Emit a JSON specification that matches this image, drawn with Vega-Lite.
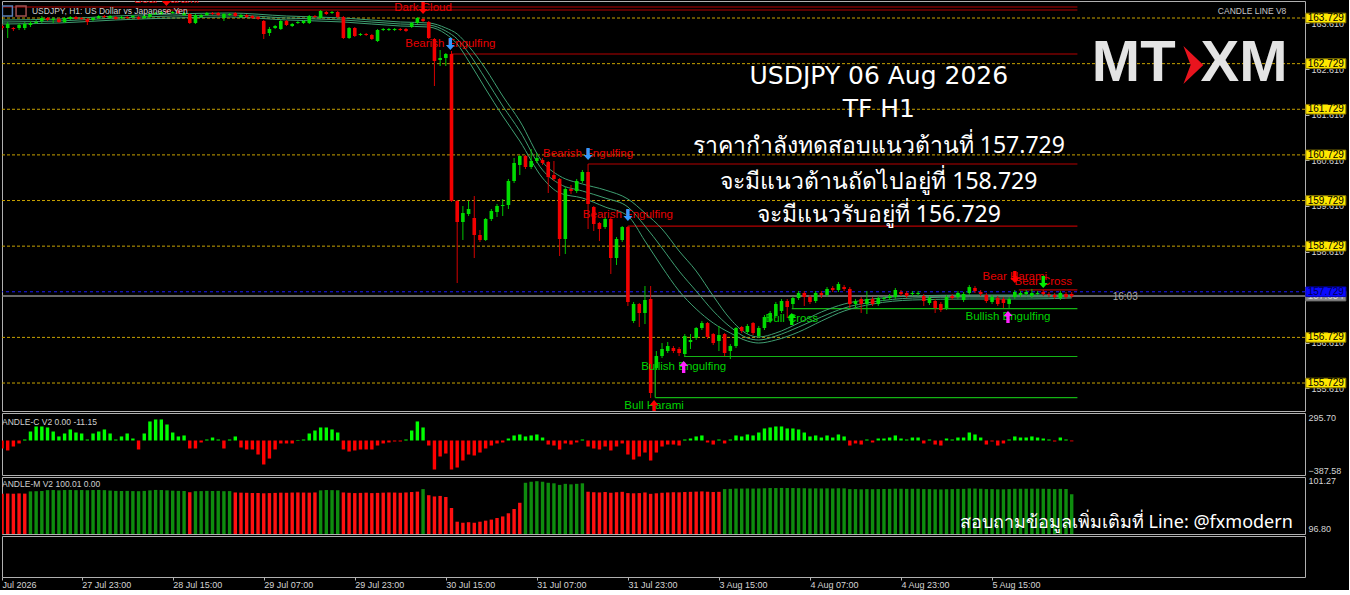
{
  "$schema": "https://vega.github.io/schema/vega-lite/v6.json",
  "background": "#000000",
  "padding": 0,
  "spacing": 2,
  "bounds": "flush",
  "config": {
    "view": {"stroke": "#b0b0b0", "strokeWidth": 1, "fill": "#000000"},
    "text": {"font": "Liberation Sans"},
    "axis": {"labelFont": "Liberation Sans", "grid": false}
  },
  "resolve": {"scale": {"x": "independent", "y": "independent"}},
  "datasets": {
    "bars": [
      {"i":0,"o":163.554,"h":163.598,"l":163.466,"c":163.510,"cv":-105,"mv":100.05,"md":"dn"},
      {"i":1,"o":163.510,"h":163.642,"l":163.291,"c":163.598,"cv":-131,"mv":100.08,"md":"dn"},
      {"i":2,"o":163.510,"h":163.532,"l":163.444,"c":163.488,"cv":-79,"mv":100.06,"md":"dn"},
      {"i":3,"o":163.510,"h":163.620,"l":163.466,"c":163.576,"cv":-39,"mv":100.09,"md":"dn"},
      {"i":4,"o":163.510,"h":163.642,"l":163.466,"c":163.598,"cv":13,"mv":100.07,"md":"dn"},
      {"i":5,"o":163.576,"h":163.664,"l":163.532,"c":163.620,"cv":118,"mv":100.28,"md":"up"},
      {"i":6,"o":163.620,"h":163.686,"l":163.598,"c":163.642,"cv":184,"mv":100.30,"md":"up"},
      {"i":7,"o":163.664,"h":163.773,"l":163.620,"c":163.729,"cv":184,"mv":100.32,"md":"up"},
      {"i":8,"o":163.729,"h":163.751,"l":163.664,"c":163.686,"cv":171,"mv":100.40,"md":"up"},
      {"i":9,"o":163.686,"h":163.751,"l":163.620,"c":163.707,"cv":118,"mv":100.41,"md":"up"},
      {"i":10,"o":163.707,"h":163.729,"l":163.620,"c":163.642,"cv":53,"mv":100.38,"md":"up"},
      {"i":11,"o":163.642,"h":163.751,"l":163.620,"c":163.729,"cv":92,"mv":100.41,"md":"up"},
      {"i":12,"o":163.707,"h":163.773,"l":163.686,"c":163.751,"cv":145,"mv":100.42,"md":"up"},
      {"i":13,"o":163.751,"h":163.773,"l":163.686,"c":163.707,"cv":105,"mv":100.40,"md":"up"},
      {"i":14,"o":163.729,"h":163.751,"l":163.686,"c":163.707,"cv":92,"mv":100.41,"md":"up"},
      {"i":15,"o":163.707,"h":163.729,"l":163.576,"c":163.642,"cv":13,"mv":100.39,"md":"up"},
      {"i":16,"o":163.686,"h":163.751,"l":163.664,"c":163.729,"cv":92,"mv":100.41,"md":"up"},
      {"i":17,"o":163.729,"h":163.795,"l":163.707,"c":163.773,"cv":118,"mv":100.42,"md":"up"},
      {"i":18,"o":163.773,"h":163.795,"l":163.729,"c":163.751,"cv":145,"mv":100.40,"md":"up"},
      {"i":19,"o":163.729,"h":163.795,"l":163.707,"c":163.773,"cv":92,"mv":100.36,"md":"up"},
      {"i":20,"o":163.751,"h":163.773,"l":163.686,"c":163.707,"cv":13,"mv":100.33,"md":"up"},
      {"i":21,"o":163.729,"h":163.773,"l":163.707,"c":163.751,"cv":53,"mv":100.32,"md":"up"},
      {"i":22,"o":163.751,"h":163.773,"l":163.707,"c":163.729,"cv":92,"mv":100.33,"md":"up"},
      {"i":23,"o":163.751,"h":163.795,"l":163.729,"c":163.773,"cv":26,"mv":100.31,"md":"up"},
      {"i":24,"o":163.751,"h":163.773,"l":163.686,"c":163.707,"cv":-118,"mv":100.30,"md":"up"},
      {"i":25,"o":163.729,"h":163.795,"l":163.707,"c":163.773,"cv":92,"mv":100.33,"md":"up"},
      {"i":26,"o":163.751,"h":163.839,"l":163.729,"c":163.817,"cv":250,"mv":100.38,"md":"up"},
      {"i":27,"o":163.817,"h":163.861,"l":163.795,"c":163.839,"cv":276,"mv":100.42,"md":"up"},
      {"i":28,"o":163.817,"h":163.883,"l":163.795,"c":163.861,"cv":276,"mv":100.41,"md":"up"},
      {"i":29,"o":163.883,"h":163.905,"l":163.839,"c":163.861,"cv":210,"mv":100.38,"md":"up"},
      {"i":30,"o":163.839,"h":163.883,"l":163.817,"c":163.861,"cv":105,"mv":100.35,"md":"up"},
      {"i":31,"o":163.883,"h":163.905,"l":163.817,"c":163.839,"cv":53,"mv":100.33,"md":"up"},
      {"i":32,"o":163.795,"h":163.861,"l":163.773,"c":163.839,"cv":66,"mv":100.32,"md":"up"},
      {"i":33,"o":163.817,"h":163.839,"l":163.598,"c":163.620,"cv":-105,"mv":100.20,"md":"dn"},
      {"i":34,"o":163.620,"h":163.817,"l":163.598,"c":163.795,"cv":-105,"mv":100.30,"md":"up"},
      {"i":35,"o":163.751,"h":163.817,"l":163.729,"c":163.795,"cv":-26,"mv":100.31,"md":"up"},
      {"i":36,"o":163.795,"h":163.861,"l":163.773,"c":163.839,"cv":13,"mv":100.33,"md":"up"},
      {"i":37,"o":163.839,"h":163.861,"l":163.795,"c":163.817,"cv":39,"mv":100.32,"md":"up"},
      {"i":38,"o":163.839,"h":163.861,"l":163.773,"c":163.795,"cv":13,"mv":100.33,"md":"up"},
      {"i":39,"o":163.729,"h":163.839,"l":163.664,"c":163.817,"cv":-105,"mv":100.30,"md":"up"},
      {"i":40,"o":163.795,"h":163.839,"l":163.773,"c":163.817,"cv":13,"mv":100.31,"md":"up"},
      {"i":41,"o":163.839,"h":163.861,"l":163.751,"c":163.773,"cv":53,"mv":100.18,"md":"dn"},
      {"i":42,"o":163.751,"h":163.817,"l":163.729,"c":163.795,"cv":-92,"mv":100.16,"md":"dn"},
      {"i":43,"o":163.795,"h":163.817,"l":163.729,"c":163.751,"cv":-118,"mv":100.15,"md":"dn"},
      {"i":44,"o":163.773,"h":163.795,"l":163.707,"c":163.729,"cv":-118,"mv":100.13,"md":"dn"},
      {"i":45,"o":163.751,"h":163.773,"l":163.686,"c":163.707,"cv":-184,"mv":100.12,"md":"dn"},
      {"i":46,"o":163.664,"h":163.686,"l":163.269,"c":163.379,"cv":-315,"mv":100.10,"md":"dn"},
      {"i":47,"o":163.401,"h":163.532,"l":163.335,"c":163.488,"cv":-237,"mv":100.12,"md":"dn"},
      {"i":48,"o":163.510,"h":163.576,"l":163.488,"c":163.554,"cv":-118,"mv":100.14,"md":"dn"},
      {"i":49,"o":163.488,"h":163.686,"l":163.466,"c":163.664,"cv":-39,"mv":100.16,"md":"dn"},
      {"i":50,"o":163.664,"h":163.686,"l":163.554,"c":163.576,"cv":-39,"mv":100.15,"md":"dn"},
      {"i":51,"o":163.554,"h":163.620,"l":163.532,"c":163.598,"cv":-39,"mv":100.17,"md":"dn"},
      {"i":52,"o":163.620,"h":163.664,"l":163.598,"c":163.642,"cv":7,"mv":100.18,"md":"dn"},
      {"i":53,"o":163.620,"h":163.686,"l":163.598,"c":163.664,"cv":13,"mv":100.17,"md":"dn"},
      {"i":54,"o":163.620,"h":163.795,"l":163.598,"c":163.773,"cv":92,"mv":100.16,"md":"dn"},
      {"i":55,"o":163.773,"h":163.795,"l":163.729,"c":163.751,"cv":131,"mv":100.18,"md":"dn"},
      {"i":56,"o":163.729,"h":163.905,"l":163.707,"c":163.883,"cv":171,"mv":100.38,"md":"up"},
      {"i":57,"o":163.861,"h":163.883,"l":163.795,"c":163.817,"cv":171,"mv":100.41,"md":"up"},
      {"i":58,"o":163.839,"h":163.883,"l":163.817,"c":163.861,"cv":145,"mv":100.40,"md":"up"},
      {"i":59,"o":163.861,"h":163.883,"l":163.729,"c":163.751,"cv":105,"mv":100.39,"md":"up"},
      {"i":60,"o":163.751,"h":163.773,"l":163.269,"c":163.291,"cv":-118,"mv":100.18,"md":"dn"},
      {"i":61,"o":163.291,"h":163.532,"l":163.269,"c":163.510,"cv":-145,"mv":100.15,"md":"dn"},
      {"i":62,"o":163.510,"h":163.532,"l":163.313,"c":163.335,"cv":-131,"mv":100.12,"md":"dn"},
      {"i":63,"o":163.357,"h":163.401,"l":163.335,"c":163.379,"cv":-118,"mv":100.14,"md":"dn"},
      {"i":64,"o":163.379,"h":163.401,"l":163.335,"c":163.357,"cv":-118,"mv":100.16,"md":"dn"},
      {"i":65,"o":163.357,"h":163.379,"l":163.247,"c":163.269,"cv":-118,"mv":100.12,"md":"dn"},
      {"i":66,"o":163.225,"h":163.488,"l":163.203,"c":163.466,"cv":-66,"mv":100.14,"md":"dn"},
      {"i":67,"o":163.466,"h":163.510,"l":163.444,"c":163.488,"cv":-39,"mv":100.16,"md":"dn"},
      {"i":68,"o":163.466,"h":163.510,"l":163.444,"c":163.488,"cv":-26,"mv":100.18,"md":"dn"},
      {"i":69,"o":163.466,"h":163.510,"l":163.444,"c":163.488,"cv":-13,"mv":100.17,"md":"dn"},
      {"i":70,"o":163.488,"h":163.510,"l":163.444,"c":163.466,"cv":-13,"mv":100.15,"md":"dn"},
      {"i":71,"o":163.488,"h":163.510,"l":163.423,"c":163.444,"cv":13,"mv":100.18,"md":"dn"},
      {"i":72,"o":163.532,"h":163.642,"l":163.510,"c":163.620,"cv":131,"mv":100.22,"md":"dn"},
      {"i":73,"o":163.620,"h":163.751,"l":163.598,"c":163.729,"cv":250,"mv":100.26,"md":"dn"},
      {"i":74,"o":163.707,"h":163.729,"l":163.642,"c":163.664,"cv":171,"mv":100.50,"md":"up"},
      {"i":75,"o":163.642,"h":163.664,"l":163.269,"c":163.291,"cv":-66,"mv":99.92,"md":"dn"},
      {"i":76,"o":163.269,"h":163.291,"l":162.239,"c":162.787,"cv":-381,"mv":99.80,"md":"dn"},
      {"i":77,"o":162.809,"h":163.028,"l":162.677,"c":162.853,"cv":-210,"mv":99.85,"md":"dn"},
      {"i":78,"o":162.853,"h":162.962,"l":162.677,"c":162.940,"cv":-171,"mv":99.75,"md":"dn"},
      {"i":79,"o":162.940,"h":163.006,"l":159.697,"c":159.718,"cv":-381,"mv":98.70,"md":"dn"},
      {"i":80,"o":159.718,"h":159.740,"l":157.921,"c":159.258,"cv":-355,"mv":97.40,"md":"dn"},
      {"i":81,"o":159.258,"h":159.609,"l":158.864,"c":159.455,"cv":-263,"mv":97.30,"md":"dn"},
      {"i":82,"o":159.433,"h":159.718,"l":159.390,"c":159.543,"cv":-184,"mv":97.35,"md":"dn"},
      {"i":83,"o":159.346,"h":159.828,"l":158.469,"c":158.973,"cv":-197,"mv":97.30,"md":"dn"},
      {"i":84,"o":158.973,"h":159.083,"l":158.820,"c":158.864,"cv":-158,"mv":97.40,"md":"dn"},
      {"i":85,"o":158.864,"h":159.346,"l":158.842,"c":159.324,"cv":-105,"mv":97.50,"md":"dn"},
      {"i":86,"o":159.324,"h":159.543,"l":159.280,"c":159.499,"cv":-66,"mv":97.60,"md":"dn"},
      {"i":87,"o":159.477,"h":159.653,"l":159.368,"c":159.609,"cv":-39,"mv":97.75,"md":"dn"},
      {"i":88,"o":159.609,"h":159.762,"l":159.390,"c":159.631,"cv":-26,"mv":97.90,"md":"dn"},
      {"i":89,"o":159.631,"h":160.201,"l":159.543,"c":160.157,"cv":26,"mv":98.20,"md":"dn"},
      {"i":90,"o":160.157,"h":160.661,"l":160.113,"c":160.551,"cv":66,"mv":98.60,"md":"dn"},
      {"i":91,"o":160.507,"h":160.726,"l":160.288,"c":160.705,"cv":79,"mv":99.20,"md":"dn"},
      {"i":92,"o":160.705,"h":160.726,"l":160.420,"c":160.464,"cv":53,"mv":101.10,"md":"up"},
      {"i":93,"o":160.464,"h":160.858,"l":160.420,"c":160.595,"cv":66,"mv":101.20,"md":"up"},
      {"i":94,"o":160.595,"h":160.770,"l":160.551,"c":160.661,"cv":79,"mv":101.25,"md":"up"},
      {"i":95,"o":160.617,"h":160.661,"l":160.507,"c":160.551,"cv":39,"mv":101.20,"md":"up"},
      {"i":96,"o":160.573,"h":160.595,"l":159.894,"c":160.244,"cv":-53,"mv":101.10,"md":"up"},
      {"i":97,"o":160.288,"h":160.595,"l":160.157,"c":160.201,"cv":-66,"mv":101.05,"md":"up"},
      {"i":98,"o":160.201,"h":160.223,"l":158.513,"c":158.886,"cv":-118,"mv":100.90,"md":"up"},
      {"i":99,"o":158.886,"h":160.025,"l":158.557,"c":159.981,"cv":-39,"mv":101.00,"md":"up"},
      {"i":100,"o":159.981,"h":160.069,"l":159.872,"c":159.938,"cv":-53,"mv":100.95,"md":"up"},
      {"i":101,"o":159.938,"h":160.201,"l":159.894,"c":160.157,"cv":-26,"mv":101.00,"md":"up"},
      {"i":102,"o":160.157,"h":160.398,"l":160.113,"c":160.354,"cv":13,"mv":101.05,"md":"up"},
      {"i":103,"o":160.354,"h":160.529,"l":159.105,"c":159.653,"cv":-79,"mv":100.25,"md":"dn"},
      {"i":104,"o":159.587,"h":159.609,"l":159.061,"c":159.214,"cv":-105,"mv":100.20,"md":"dn"},
      {"i":105,"o":159.236,"h":159.258,"l":158.842,"c":159.105,"cv":-118,"mv":100.18,"md":"dn"},
      {"i":106,"o":159.148,"h":159.368,"l":159.105,"c":159.324,"cv":-79,"mv":100.22,"md":"dn"},
      {"i":107,"o":159.324,"h":159.368,"l":158.119,"c":158.469,"cv":-131,"mv":100.15,"md":"dn"},
      {"i":108,"o":158.469,"h":158.929,"l":158.316,"c":158.886,"cv":-79,"mv":100.20,"md":"dn"},
      {"i":109,"o":158.864,"h":159.170,"l":158.820,"c":159.148,"cv":-39,"mv":100.24,"md":"dn"},
      {"i":110,"o":159.148,"h":159.170,"l":157.417,"c":157.505,"cv":-184,"mv":100.12,"md":"dn"},
      {"i":111,"o":157.088,"h":157.505,"l":157.044,"c":157.461,"cv":-250,"mv":100.10,"md":"dn"},
      {"i":112,"o":157.461,"h":157.483,"l":156.957,"c":157.264,"cv":-210,"mv":100.12,"md":"dn"},
      {"i":113,"o":157.264,"h":157.855,"l":157.022,"c":157.549,"cv":-158,"mv":100.18,"md":"dn"},
      {"i":114,"o":157.571,"h":157.855,"l":155.400,"c":155.510,"cv":-263,"mv":100.05,"md":"dn"},
      {"i":115,"o":156.058,"h":156.431,"l":156.014,"c":156.321,"cv":-158,"mv":100.10,"md":"dn"},
      {"i":116,"o":156.321,"h":156.606,"l":156.277,"c":156.475,"cv":-79,"mv":100.15,"md":"dn"},
      {"i":117,"o":156.431,"h":156.628,"l":156.387,"c":156.540,"cv":-53,"mv":100.18,"md":"dn"},
      {"i":118,"o":156.497,"h":156.540,"l":156.387,"c":156.431,"cv":-53,"mv":100.20,"md":"dn"},
      {"i":119,"o":156.475,"h":156.518,"l":156.321,"c":156.387,"cv":-66,"mv":100.19,"md":"dn"},
      {"i":120,"o":156.365,"h":156.803,"l":156.299,"c":156.759,"cv":13,"mv":100.22,"md":"dn"},
      {"i":121,"o":156.628,"h":156.803,"l":156.475,"c":156.672,"cv":26,"mv":100.24,"md":"dn"},
      {"i":122,"o":156.716,"h":156.957,"l":156.672,"c":156.935,"cv":53,"mv":100.26,"md":"dn"},
      {"i":123,"o":156.935,"h":157.088,"l":156.891,"c":157.044,"cv":66,"mv":100.28,"md":"dn"},
      {"i":124,"o":157.044,"h":157.066,"l":156.694,"c":156.738,"cv":-26,"mv":100.25,"md":"dn"},
      {"i":125,"o":156.803,"h":156.825,"l":156.562,"c":156.606,"cv":-53,"mv":100.22,"md":"dn"},
      {"i":126,"o":156.650,"h":156.979,"l":156.431,"c":156.781,"cv":13,"mv":100.24,"md":"dn"},
      {"i":127,"o":156.803,"h":156.825,"l":156.321,"c":156.387,"cv":-39,"mv":100.50,"md":"up"},
      {"i":128,"o":156.431,"h":156.584,"l":156.255,"c":156.540,"cv":13,"mv":100.52,"md":"up"},
      {"i":129,"o":156.540,"h":156.957,"l":156.497,"c":156.935,"cv":66,"mv":100.55,"md":"up"},
      {"i":130,"o":156.957,"h":156.979,"l":156.825,"c":156.869,"cv":53,"mv":100.55,"md":"up"},
      {"i":131,"o":156.847,"h":157.022,"l":156.803,"c":156.979,"cv":79,"mv":100.56,"md":"up"},
      {"i":132,"o":157.044,"h":157.066,"l":156.781,"c":156.825,"cv":66,"mv":100.55,"md":"up"},
      {"i":133,"o":156.759,"h":156.979,"l":156.716,"c":156.935,"cv":105,"mv":100.56,"md":"up"},
      {"i":134,"o":156.935,"h":157.220,"l":156.891,"c":157.176,"cv":158,"mv":100.58,"md":"up"},
      {"i":135,"o":157.088,"h":157.308,"l":157.044,"c":157.264,"cv":171,"mv":100.60,"md":"up"},
      {"i":136,"o":157.198,"h":157.505,"l":157.154,"c":157.461,"cv":184,"mv":100.60,"md":"up"},
      {"i":137,"o":157.308,"h":157.571,"l":157.264,"c":157.527,"cv":184,"mv":100.61,"md":"up"},
      {"i":138,"o":157.527,"h":157.571,"l":157.154,"c":157.395,"cv":158,"mv":100.60,"md":"up"},
      {"i":139,"o":157.461,"h":157.636,"l":157.373,"c":157.592,"cv":158,"mv":100.60,"md":"up"},
      {"i":140,"o":157.592,"h":157.746,"l":157.549,"c":157.702,"cv":145,"mv":100.59,"md":"up"},
      {"i":141,"o":157.702,"h":157.746,"l":157.417,"c":157.614,"cv":105,"mv":100.58,"md":"up"},
      {"i":142,"o":157.614,"h":157.658,"l":157.461,"c":157.505,"cv":53,"mv":100.56,"md":"up"},
      {"i":143,"o":157.527,"h":157.746,"l":157.483,"c":157.702,"cv":66,"mv":100.57,"md":"up"},
      {"i":144,"o":157.702,"h":157.746,"l":157.592,"c":157.658,"cv":39,"mv":100.56,"md":"up"},
      {"i":145,"o":157.658,"h":157.833,"l":157.614,"c":157.790,"cv":66,"mv":100.57,"md":"up"},
      {"i":146,"o":157.812,"h":157.855,"l":157.724,"c":157.768,"cv":39,"mv":100.56,"md":"up"},
      {"i":147,"o":157.768,"h":157.943,"l":157.724,"c":157.899,"cv":79,"mv":100.58,"md":"up"},
      {"i":148,"o":157.833,"h":157.877,"l":157.746,"c":157.790,"cv":53,"mv":100.57,"md":"up"},
      {"i":149,"o":157.790,"h":157.833,"l":157.373,"c":157.461,"cv":-66,"mv":100.50,"md":"up"},
      {"i":150,"o":157.461,"h":157.571,"l":157.373,"c":157.527,"cv":-39,"mv":100.50,"md":"up"},
      {"i":151,"o":157.571,"h":157.614,"l":157.264,"c":157.461,"cv":-53,"mv":100.48,"md":"up"},
      {"i":152,"o":157.461,"h":157.746,"l":157.242,"c":157.571,"cv":13,"mv":100.50,"md":"up"},
      {"i":153,"o":157.571,"h":157.614,"l":157.417,"c":157.461,"cv":-26,"mv":100.49,"md":"up"},
      {"i":154,"o":157.461,"h":157.636,"l":157.417,"c":157.592,"cv":26,"mv":100.50,"md":"up"},
      {"i":155,"o":157.571,"h":157.636,"l":157.527,"c":157.592,"cv":26,"mv":100.51,"md":"up"},
      {"i":156,"o":157.592,"h":157.680,"l":157.549,"c":157.636,"cv":39,"mv":100.52,"md":"up"},
      {"i":157,"o":157.614,"h":157.812,"l":157.571,"c":157.768,"cv":66,"mv":100.54,"md":"up"},
      {"i":158,"o":157.724,"h":157.768,"l":157.636,"c":157.680,"cv":26,"mv":100.53,"md":"up"},
      {"i":159,"o":157.702,"h":157.746,"l":157.592,"c":157.636,"cv":13,"mv":100.52,"md":"up"},
      {"i":160,"o":157.680,"h":157.746,"l":157.636,"c":157.702,"cv":39,"mv":100.53,"md":"up"},
      {"i":161,"o":157.680,"h":157.746,"l":157.636,"c":157.702,"cv":39,"mv":100.53,"md":"up"},
      {"i":162,"o":157.636,"h":157.680,"l":157.417,"c":157.527,"cv":-39,"mv":100.50,"md":"up"},
      {"i":163,"o":157.483,"h":157.636,"l":157.439,"c":157.592,"cv":13,"mv":100.50,"md":"up"},
      {"i":164,"o":157.527,"h":157.571,"l":157.264,"c":157.373,"cv":-53,"mv":100.48,"md":"up"},
      {"i":165,"o":157.461,"h":157.505,"l":157.286,"c":157.329,"cv":-66,"mv":100.47,"md":"up"},
      {"i":166,"o":157.373,"h":157.658,"l":157.329,"c":157.614,"cv":26,"mv":100.49,"md":"up"},
      {"i":167,"o":157.636,"h":157.680,"l":157.549,"c":157.592,"cv":13,"mv":100.50,"md":"up"},
      {"i":168,"o":157.614,"h":157.746,"l":157.571,"c":157.702,"cv":39,"mv":100.52,"md":"up"},
      {"i":169,"o":157.549,"h":157.724,"l":157.505,"c":157.680,"cv":39,"mv":100.52,"md":"up"},
      {"i":170,"o":157.702,"h":157.877,"l":157.658,"c":157.833,"cv":105,"mv":100.56,"md":"up"},
      {"i":171,"o":157.812,"h":157.855,"l":157.702,"c":157.746,"cv":79,"mv":100.55,"md":"up"},
      {"i":172,"o":157.724,"h":157.768,"l":157.636,"c":157.680,"cv":39,"mv":100.53,"md":"up"},
      {"i":173,"o":157.658,"h":157.702,"l":157.483,"c":157.527,"cv":-53,"mv":100.50,"md":"up"},
      {"i":174,"o":157.505,"h":157.658,"l":157.461,"c":157.614,"cv":-13,"mv":100.50,"md":"up"},
      {"i":175,"o":157.592,"h":157.636,"l":157.417,"c":157.461,"cv":-66,"mv":100.48,"md":"up"},
      {"i":176,"o":157.571,"h":157.614,"l":157.373,"c":157.483,"cv":-39,"mv":100.48,"md":"up"},
      {"i":177,"o":157.461,"h":157.614,"l":157.373,"c":157.571,"cv":13,"mv":100.50,"md":"up"},
      {"i":178,"o":157.614,"h":157.768,"l":157.571,"c":157.724,"cv":53,"mv":100.53,"md":"up"},
      {"i":179,"o":157.658,"h":157.746,"l":157.614,"c":157.702,"cv":39,"mv":100.53,"md":"up"},
      {"i":180,"o":157.680,"h":157.768,"l":157.636,"c":157.724,"cv":39,"mv":100.54,"md":"up"},
      {"i":181,"o":157.636,"h":157.790,"l":157.592,"c":157.702,"cv":53,"mv":100.54,"md":"up"},
      {"i":182,"o":157.680,"h":157.746,"l":157.658,"c":157.702,"cv":39,"mv":100.54,"md":"up"},
      {"i":183,"o":157.724,"h":157.768,"l":157.636,"c":157.680,"cv":26,"mv":100.53,"md":"up"},
      {"i":184,"o":157.680,"h":157.724,"l":157.614,"c":157.658,"cv":13,"mv":100.52,"md":"up"},
      {"i":185,"o":157.658,"h":157.702,"l":157.571,"c":157.614,"cv":-13,"mv":100.50,"md":"up"},
      {"i":186,"o":157.592,"h":157.746,"l":157.549,"c":157.702,"cv":39,"mv":100.52,"md":"up"},
      {"i":187,"o":157.680,"h":157.724,"l":157.571,"c":157.614,"cv":13,"mv":100.51,"md":"up"},
      {"i":188,"o":157.680,"h":157.724,"l":157.592,"c":157.634,"cv":-11.15,"mv":100.01,"md":"up"}
    ],
    "ma": [
      {"i":0,"a":163.686,"b":163.642,"c":163.598},
      {"i":10,"a":163.707,"b":163.664,"c":163.620},
      {"i":20,"a":163.773,"b":163.729,"c":163.686},
      {"i":30,"a":163.817,"b":163.773,"c":163.729},
      {"i":40,"a":163.839,"b":163.795,"c":163.751},
      {"i":50,"a":163.773,"b":163.729,"c":163.686},
      {"i":60,"a":163.729,"b":163.686,"c":163.642},
      {"i":70,"a":163.642,"b":163.598,"c":163.554},
      {"i":75,"a":163.620,"b":163.576,"c":163.532},
      {"i":78,"a":163.510,"b":163.444,"c":163.379},
      {"i":80,"a":163.379,"b":163.269,"c":163.160},
      {"i":82,"a":163.116,"b":162.962,"c":162.787},
      {"i":85,"a":162.612,"b":162.392,"c":162.173},
      {"i":88,"a":162.020,"b":161.801,"c":161.581},
      {"i":91,"a":161.472,"b":161.253,"c":161.033},
      {"i":95,"a":160.573,"b":160.398,"c":160.223},
      {"i":98,"a":160.267,"b":160.091,"c":159.894},
      {"i":102,"a":160.091,"b":159.938,"c":159.784},
      {"i":106,"a":159.960,"b":159.784,"c":159.587},
      {"i":110,"a":159.762,"b":159.587,"c":159.390},
      {"i":113,"a":159.455,"b":159.170,"c":158.842},
      {"i":116,"a":159.105,"b":158.688,"c":158.272},
      {"i":119,"a":158.623,"b":158.184,"c":157.746},
      {"i":122,"a":158.184,"b":157.746,"c":157.351},
      {"i":125,"a":157.636,"b":157.308,"c":157.044},
      {"i":128,"a":157.132,"b":156.957,"c":156.825},
      {"i":131,"a":156.803,"b":156.716,"c":156.650},
      {"i":133,"a":156.738,"b":156.672,"c":156.606},
      {"i":136,"a":156.825,"b":156.759,"c":156.672},
      {"i":140,"a":157.044,"b":156.957,"c":156.847},
      {"i":144,"a":157.286,"b":157.176,"c":157.088},
      {"i":148,"a":157.461,"b":157.373,"c":157.308},
      {"i":153,"a":157.571,"b":157.505,"c":157.461},
      {"i":160,"a":157.636,"b":157.592,"c":157.549},
      {"i":170,"a":157.658,"b":157.614,"c":157.571},
      {"i":180,"a":157.658,"b":157.614,"c":157.571},
      {"i":188,"a":157.658,"b":157.614,"c":157.592}
    ],
    "tags": [
      {"p":163.729,"kind":"level"},
      {"p":162.729,"kind":"level"},
      {"p":161.729,"kind":"level"},
      {"p":160.729,"kind":"level"},
      {"p":159.729,"kind":"level"},
      {"p":158.729,"kind":"level"},
      {"p":156.729,"kind":"level"},
      {"p":155.729,"kind":"level"},
      {"p":157.634,"kind":"bid"},
      {"p":157.729,"kind":"ask"}
    ],
    "zones": [
      {"i1":0,"i2":189,"p1":163.970,"p2":163.970,"side":"bear"},
      {"i1":28.8,"i2":189,"p1":163.905,"p2":163.905,"side":"bear"},
      {"i1":79,"i2":189,"p1":162.940,"p2":162.940,"side":"bear"},
      {"i1":103,"i2":189,"p1":160.529,"p2":160.529,"side":"bear"},
      {"i1":110,"i2":189,"p1":159.170,"p2":159.170,"side":"bear"},
      {"i1":178.7,"i2":189,"p1":157.770,"p2":157.770,"side":"bear"},
      {"i1":138.8,"i2":189,"p1":157.360,"p2":157.360,"side":"bull"},
      {"i1":119.9,"i2":189,"p1":156.310,"p2":156.310,"side":"bull"},
      {"i1":114.8,"i2":189,"p1":155.410,"p2":155.410,"side":"bull"},
      {"i1":114.8,"i2":114.8,"p1":156.060,"p2":155.410,"side":"bull"}
    ],
    "signals": [
      {"i":28.9,"p":164.124,"name":"Bear Harami","side":"bear"},
      {"i":74.0,"p":163.949,"name":"Dark Cloud","side":"bear"},
      {"i":78.8,"p":163.160,"name":"Bearish Engulfing","side":"bear"},
      {"i":103.0,"p":160.749,"name":"Bearish Engulfing","side":"bear"},
      {"i":110.0,"p":159.412,"name":"Bearish Engulfing","side":"bear"},
      {"i":114.6,"p":155.225,"name":"Bull Harami","side":"bull"},
      {"i":119.8,"p":156.080,"name":"Bullish Engulfing","side":"bull"},
      {"i":138.8,"p":157.132,"name":"Bull Cross","side":"bull"},
      {"i":176.8,"p":157.176,"name":"Bullish Engulfing","side":"bull"},
      {"i":178.0,"p":158.053,"name":"Bear Harami","side":"bear"},
      {"i":183.0,"p":157.943,"name":"Bear Cross","side":"bear"}
    ]
  },
  "vconcat": [
    {
      "width": 1303,
      "height": 410,
      "layer": [
        {
          "data": {"name": "tags"},
          "transform": [{"filter": "datum.kind == 'level'"}],
          "mark": {"type": "rule", "stroke": "#c8a200", "strokeDash": [3, 2], "strokeWidth": 1},
          "encoding": {
            "y": {
              "field": "p", "type": "quantitative", "title": null,
              "scale": {"domain": [155.116, 164.102], "nice": false, "zero": false},
              "axis": {
                "orient": "right", "title": null, "domain": false, "grid": false,
                "values": [155.61, 156.11, 156.61, 157.11, 157.61, 158.11, 158.61, 159.11, 159.61, 160.11, 160.61, 161.11, 161.61, 162.11, 162.61, 163.11, 163.61],
                "format": ".3f", "tickColor": "#b4b4b4", "tickSize": 4,
                "labelColor": "#d4d4d4", "labelFontSize": 9, "labelPadding": 2,
                "labelOverlap": false, "labelFlush": false
              }
            }
          }
        },
        {
          "data": {"name": "tags"},
          "transform": [{"filter": "datum.kind == 'bid'"}],
          "mark": {"type": "rule", "stroke": "#8c8c8c", "strokeWidth": 1.5},
          "encoding": {"y": {"field": "p", "type": "quantitative", "title": null, "scale": {"domain": [155.116, 164.102], "nice": false, "zero": false}}}
        },
        {
          "data": {"name": "tags"},
          "transform": [{"filter": "datum.kind == 'ask'"}],
          "mark": {"type": "rule", "stroke": "#1a1aff", "strokeDash": [3, 3], "strokeWidth": 1},
          "encoding": {"y": {"field": "p", "type": "quantitative", "title": null, "scale": {"domain": [155.116, 164.102], "nice": false, "zero": false}}}
        },
        {
          "data": {"name": "zones"},
          "mark": {"type": "rule", "strokeWidth": 1.2, "clip": true},
          "encoding": {
            "x": {"field": "i1", "type": "quantitative", "title": null, "scale": {"domain": [0, 229], "nice": false, "zero": false, "padding": 0}, "axis": null},
            "x2": {"field": "i2"},
            "y": {"field": "p1", "type": "quantitative", "title": null, "scale": {"domain": [155.116, 164.102], "nice": false, "zero": false}},
            "y2": {"field": "p2"},
            "stroke": {"condition": {"test": "datum.side == 'bull'", "value": "#14b414"}, "value": "#b40000"}
          }
        },
        {
          "data": {"name": "ma"},
          "transform": [{"fold": ["a", "b", "c"], "as": ["s", "v"]}],
          "mark": {"type": "line", "stroke": "#3f9f72", "strokeWidth": 1, "interpolate": "monotone", "clip": true},
          "encoding": {
            "x": {"field": "i", "type": "quantitative", "title": null, "scale": {"domain": [0, 229], "nice": false, "zero": false, "padding": 0}, "axis": null},
            "y": {"field": "v", "type": "quantitative", "title": null, "scale": {"domain": [155.116, 164.102], "nice": false, "zero": false}},
            "detail": {"field": "s"}
          }
        },
        {
          "data": {"name": "bars"},
          "mark": {"type": "rule", "strokeWidth": 1, "clip": true},
          "encoding": {
            "x": {"field": "i", "type": "quantitative", "title": null, "scale": {"domain": [0, 229], "nice": false, "zero": false, "padding": 0}, "axis": null},
            "y": {"field": "l", "type": "quantitative", "title": null, "scale": {"domain": [155.116, 164.102], "nice": false, "zero": false}},
            "y2": {"field": "h"},
            "stroke": {"condition": {"test": "datum.c >= datum.o", "value": "#00c400"}, "value": "#d40000"}
          }
        },
        {
          "data": {"name": "bars"},
          "mark": {"type": "bar", "width": 3.6, "clip": true},
          "encoding": {
            "x": {"field": "i", "type": "quantitative", "title": null, "scale": {"domain": [0, 229], "nice": false, "zero": false, "padding": 0}, "axis": null},
            "y": {"field": "o", "type": "quantitative", "title": null, "scale": {"domain": [155.116, 164.102], "nice": false, "zero": false}},
            "y2": {"field": "c"},
            "color": {"condition": {"test": "datum.c >= datum.o", "value": "#00dc00"}, "value": "#f20000"}
          }
        },
        {
          "data": {"name": "signals"},
          "mark": {"type": "text", "fontSize": 11.5, "align": "center", "baseline": "middle", "clip": true},
          "encoding": {
            "x": {"field": "i", "type": "quantitative", "title": null, "scale": {"domain": [0, 229], "nice": false, "zero": false, "padding": 0}, "axis": null},
            "y": {"field": "p", "type": "quantitative", "title": null, "scale": {"domain": [155.116, 164.102], "nice": false, "zero": false}},
            "text": {"field": "name"},
            "color": {"condition": {"test": "datum.side == 'bull'", "value": "#00d200"}, "value": "#e60000"}
          }
        },
        {
          "data": {"name": "signals"},
          "mark": {"type": "point", "filled": true, "size": 144, "opacity": 1, "strokeWidth": 0, "clip": true},
          "encoding": {
            "x": {"field": "i", "type": "quantitative", "title": null, "scale": {"domain": [0, 229], "nice": false, "zero": false, "padding": 0}, "axis": null},
            "y": {"field": "p", "type": "quantitative", "title": null, "scale": {"domain": [155.116, 164.102], "nice": false, "zero": false}},
            "shape": {
              "condition": {"test": "datum.side == 'bull'", "value": "M0,-1L0.75,-0.15L0.28,-0.15L0.28,1L-0.28,1L-0.28,-0.15L-0.75,-0.15Z"},
              "value": "M0,1L0.75,0.15L0.28,0.15L0.28,-1L-0.28,-1L-0.28,0.15L-0.75,0.15Z"
            },
            "color": {
              "condition": [
                {"test": "datum.name == 'Bearish Engulfing'", "value": "#3399ff"},
                {"test": "datum.name == 'Bullish Engulfing'", "value": "#ff22ff"},
                {"test": "indexof(datum.name, 'Cross') >= 0", "value": "#00ee00"}
              ],
              "value": "#ff0000"
            }
          }
        },
        {
          "data": {"values": [
            {"icon": "chart", "i": 0.95, "p": 163.883},
            {"icon": "window", "i": 3.35, "p": 163.883}
          ]},
          "mark": {"type": "point", "filled": false, "opacity": 1, "size": 100, "strokeWidth": 1.5, "shape": "square", "clip": true},
          "encoding": {
            "x": {"field": "i", "type": "quantitative", "title": null, "scale": {"domain": [0, 229], "nice": false, "zero": false, "padding": 0}, "axis": null},
            "y": {"field": "p", "type": "quantitative", "title": null, "scale": {"domain": [155.116, 164.102], "nice": false, "zero": false}},
            "stroke": {"condition": {"test": "datum.icon == 'chart'", "value": "#5a7fb5"}, "value": "#a05050"}
          }
        },
        {
          "data": {"values": [
            {"t": "USDJPY, H1:  US Dollar vs Japanese Yen", "i": 5.27, "p": 163.883}
          ]},
          "mark": {"type": "text", "fontSize": 8.5, "align": "left", "baseline": "middle", "color": "#d0d0d0"},
          "encoding": {
            "x": {"field": "i", "type": "quantitative", "title": null, "scale": {"domain": [0, 229], "nice": false, "zero": false, "padding": 0}, "axis": null},
            "y": {"field": "p", "type": "quantitative", "title": null, "scale": {"domain": [155.116, 164.102], "nice": false, "zero": false}},
            "text": {"field": "t"}
          }
        },
        {
          "data": {"values": [
            {"t": "CANDLE LINE V8", "i": 219.7, "p": 163.883}
          ]},
          "mark": {"type": "text", "fontSize": 8.5, "align": "center", "baseline": "middle", "color": "#c8c8c8"},
          "encoding": {
            "x": {"field": "i", "type": "quantitative", "title": null, "scale": {"domain": [0, 229], "nice": false, "zero": false, "padding": 0}, "axis": null},
            "y": {"field": "p", "type": "quantitative", "title": null, "scale": {"domain": [155.116, 164.102], "nice": false, "zero": false}},
            "text": {"field": "t"}
          }
        },
        {
          "data": {"values": [
            {"t": "16:03", "i": 197.4, "p": 157.614}
          ]},
          "mark": {"type": "text", "fontSize": 10, "align": "center", "baseline": "middle", "color": "#a8a8a8"},
          "encoding": {
            "x": {"field": "i", "type": "quantitative", "title": null, "scale": {"domain": [0, 229], "nice": false, "zero": false, "padding": 0}, "axis": null},
            "y": {"field": "p", "type": "quantitative", "title": null, "scale": {"domain": [155.116, 164.102], "nice": false, "zero": false}},
            "text": {"field": "t"}
          }
        },
        {
          "data": {"values": [
            {"t": "USDJPY 06 Aug 2026", "i": 154.1, "p": 162.458},
            {"t": "TF H1", "i": 154.1, "p": 161.735}
          ]},
          "mark": {"type": "text", "font": "DejaVu Sans", "fontSize": 25, "align": "center", "baseline": "middle", "color": "#ffffff"},
          "encoding": {
            "x": {"field": "i", "type": "quantitative", "title": null, "scale": {"domain": [0, 229], "nice": false, "zero": false, "padding": 0}, "axis": null},
            "y": {"field": "p", "type": "quantitative", "title": null, "scale": {"domain": [155.116, 164.102], "nice": false, "zero": false}},
            "text": {"field": "t"}
          }
        },
        {
          "data": {"values": [
            {"t": "ราคากำลังทดสอบแนวต้านที่ 157.729", "i": 154.1, "p": 160.924},
            {"t": "จะมีแนวต้านถัดไปอยู่ที่ 158.729", "i": 154.1, "p": 160.135},
            {"t": "จะมีแนวรับอยู่ที่ 156.729", "i": 154.1, "p": 159.412}
          ]},
          "mark": {"type": "text", "font": "Noto Sans", "fontSize": 23, "align": "center", "baseline": "middle", "color": "#ffffff"},
          "encoding": {
            "x": {"field": "i", "type": "quantitative", "title": null, "scale": {"domain": [0, 229], "nice": false, "zero": false, "padding": 0}, "axis": null},
            "y": {"field": "p", "type": "quantitative", "title": null, "scale": {"domain": [155.116, 164.102], "nice": false, "zero": false}},
            "text": {"field": "t"}
          }
        },
        {
          "data": {"values": [{"i": 209.3, "p": 162.70}]},
          "mark": {"type": "point", "filled": true, "opacity": 1, "size": 1450, "strokeWidth": 0, "color": "#e8141e", "shape": "M-0.5,-1L0.55,0L-0.5,1L-0.12,0Z"},
          "encoding": {
            "x": {"field": "i", "type": "quantitative", "title": null, "scale": {"domain": [0, 229], "nice": false, "zero": false, "padding": 0}, "axis": null},
            "y": {"field": "p", "type": "quantitative", "title": null, "scale": {"domain": [155.116, 164.102], "nice": false, "zero": false}}
          }
        },
        {
          "data": {"values": [
            {"t": "MT", "i": 198.9, "p": 162.349},
            {"t": "XM", "i": 218.3, "p": 162.349}
          ]},
          "mark": {"type": "text", "fontSize": 58, "fontWeight": "bold", "align": "center", "baseline": "alphabetic", "color": "#e4e4e4"},
          "encoding": {
            "x": {"field": "i", "type": "quantitative", "title": null, "scale": {"domain": [0, 229], "nice": false, "zero": false, "padding": 0}, "axis": null},
            "y": {"field": "p", "type": "quantitative", "title": null, "scale": {"domain": [155.116, 164.102], "nice": false, "zero": false}},
            "text": {"field": "t"}
          }
        },
        {
          "data": {"name": "tags"},
          "transform": [{"filter": "datum.kind != 'ask'"}],
          "mark": {"type": "point", "filled": true, "opacity": 1, "size": 1600, "strokeWidth": 1, "shape": "M-1,-0.24L1,-0.24L1,0.24L-1,0.24Z"},
          "encoding": {
            "x": {"datum": 232.66, "type": "quantitative", "scale": {"domain": [0, 229], "nice": false, "zero": false, "padding": 0}, "axis": null},
            "y": {"field": "p", "type": "quantitative", "title": null, "scale": {"domain": [155.116, 164.102], "nice": false, "zero": false}},
            "fill": {"condition": {"test": "datum.kind == 'bid'", "value": "#8a8a8a"}, "value": "#ffe800"},
            "stroke": {"condition": {"test": "datum.kind == 'bid'", "value": "#6a6a6a"}, "value": "#8c7a00"}
          }
        },
        {
          "data": {"name": "tags"},
          "transform": [{"filter": "datum.kind != 'ask'"}],
          "mark": {"type": "text", "fontSize": 10, "align": "center", "baseline": "middle"},
          "encoding": {
            "x": {"datum": 232.66, "type": "quantitative", "scale": {"domain": [0, 229], "nice": false, "zero": false, "padding": 0}, "axis": null},
            "y": {"field": "p", "type": "quantitative", "title": null, "scale": {"domain": [155.116, 164.102], "nice": false, "zero": false}},
            "text": {"field": "p", "type": "quantitative", "format": ".3f"},
            "color": {"condition": {"test": "datum.kind == 'bid'", "value": "#dcdcdc"}, "value": "#000000"}
          }
        },
        {
          "data": {"name": "tags"},
          "transform": [{"filter": "datum.kind == 'ask'"}],
          "mark": {"type": "point", "filled": true, "opacity": 1, "size": 1600, "strokeWidth": 1, "shape": "M-1,-0.24L1,-0.24L1,0.24L-1,0.24Z", "fill": "#0a0aff", "stroke": "#0000c0"},
          "encoding": {
            "x": {"datum": 232.66, "type": "quantitative", "scale": {"domain": [0, 229], "nice": false, "zero": false, "padding": 0}, "axis": null},
            "y": {"field": "p", "type": "quantitative", "title": null, "scale": {"domain": [155.116, 164.102], "nice": false, "zero": false}}
          }
        },
        {
          "data": {"name": "tags"},
          "transform": [{"filter": "datum.kind == 'ask'"}],
          "mark": {"type": "text", "fontSize": 10, "align": "center", "baseline": "middle", "color": "#000050"},
          "encoding": {
            "x": {"datum": 232.66, "type": "quantitative", "scale": {"domain": [0, 229], "nice": false, "zero": false, "padding": 0}, "axis": null},
            "y": {"field": "p", "type": "quantitative", "title": null, "scale": {"domain": [155.116, 164.102], "nice": false, "zero": false}},
            "text": {"field": "p", "type": "quantitative", "format": ".3f"}
          }
        }
      ]
    },
    {
      "width": 1303,
      "height": 62,
      "layer": [
        {
          "data": {"name": "bars"},
          "mark": {"type": "bar", "width": 3.4, "clip": true},
          "encoding": {
            "x": {"field": "i", "type": "quantitative", "title": null, "scale": {"domain": [0, 229], "nice": false, "zero": false, "padding": 0}, "axis": null},
            "y": {
              "field": "cv", "type": "quantitative", "title": null,
              "scale": {"domain": [-453, 361], "nice": false, "zero": false},
              "axis": {
                "orient": "right", "title": null, "domain": false, "grid": false, "ticks": false,
                "values": [295.7, 0, -387.58], "format": ".2f",
                "labelColor": "#d4d4d4", "labelFontSize": 9, "labelPadding": 3,
                "labelOverlap": false, "labelFlush": false
              }
            },
            "y2": {"datum": 0},
            "color": {"condition": {"test": "datum.cv >= 0", "value": "#00ff00"}, "value": "#ff0000"}
          }
        },
        {
          "data": {"values": [{"t": "CANDLE-C V2 0.00 -11.15", "i": -1.07, "v": 243}]},
          "mark": {"type": "text", "fontSize": 8.5, "align": "left", "baseline": "middle", "color": "#d0d0d0", "clip": true},
          "encoding": {
            "x": {"field": "i", "type": "quantitative", "title": null, "scale": {"domain": [0, 229], "nice": false, "zero": false, "padding": 0}, "axis": null},
            "y": {"field": "v", "type": "quantitative", "title": null, "scale": {"domain": [-453, 361], "nice": false, "zero": false}},
            "text": {"field": "t"}
          }
        }
      ]
    },
    {
      "width": 1303,
      "height": 57,
      "layer": [
        {
          "data": {"name": "bars"},
          "mark": {"type": "bar", "width": 3.4, "clip": true},
          "encoding": {
            "x": {"field": "i", "type": "quantitative", "title": null, "scale": {"domain": [0, 229], "nice": false, "zero": false, "padding": 0}, "axis": null},
            "y": {
              "field": "mv", "type": "quantitative", "title": null,
              "scale": {"domain": [96.23, 101.65], "nice": false, "zero": false, "clamp": true},
              "axis": {
                "orient": "right", "title": null, "domain": false, "grid": false, "ticks": false,
                "values": [101.27, 96.8], "format": ".2f",
                "labelColor": "#d4d4d4", "labelFontSize": 9, "labelPadding": 3,
                "labelOverlap": false, "labelFlush": false
              }
            },
            "y2": {"datum": 96.23},
            "color": {"condition": {"test": "datum.md == 'up'", "value": "#0e8c0e"}, "value": "#ff1010"}
          }
        },
        {
          "data": {"values": [{"t": "CANDLE-M V2 100.01 0.00", "i": -1.07, "v": 100.98}]},
          "mark": {"type": "text", "fontSize": 8.5, "align": "left", "baseline": "middle", "color": "#d0d0d0", "clip": true},
          "encoding": {
            "x": {"field": "i", "type": "quantitative", "title": null, "scale": {"domain": [0, 229], "nice": false, "zero": false, "padding": 0}, "axis": null},
            "y": {"field": "v", "type": "quantitative", "title": null, "scale": {"domain": [96.23, 101.65], "nice": false, "zero": false}},
            "text": {"field": "t"}
          }
        },
        {
          "data": {"values": [{"t": "สอบถามข้อมูลเพิ่มเติมที่ Line: @fxmodern", "i": 197.6, "v": 97.28}]},
          "mark": {"type": "text", "font": "Noto Sans", "fontSize": 18, "align": "center", "baseline": "middle", "color": "#ffffff"},
          "encoding": {
            "x": {"field": "i", "type": "quantitative", "title": null, "scale": {"domain": [0, 229], "nice": false, "zero": false, "padding": 0}, "axis": null},
            "y": {"field": "v", "type": "quantitative", "title": null, "scale": {"domain": [96.23, 101.65], "nice": false, "zero": false}},
            "text": {"field": "t"}
          }
        }
      ]
    },
    {
      "width": 1303,
      "height": 41,
      "data": {"values": [{"i": 100}]},
      "mark": {"type": "point", "opacity": 0},
      "encoding": {
        "x": {
          "field": "i", "type": "quantitative", "title": null,
          "scale": {"domain": [0, 229], "nice": false, "zero": false, "padding": 0},
          "axis": {
            "orient": "bottom", "title": null, "domain": false, "grid": false,
            "values": [0, 14, 30, 46, 62, 78, 94, 110, 126, 142, 158, 174],
            "labelExpr": "datum.value == 0 ? 'Jul 2026' : ['', '27 Jul 23:00', '28 Jul 15:00', '29 Jul 07:00', '29 Jul 23:00', '30 Jul 15:00', '31 Jul 07:00', '31 Jul 23:00', '3 Aug 15:00', '4 Aug 07:00', '4 Aug 23:00', '5 Aug 15:00'][(datum.value + 2) / 16]",
            "labelAlign": "left", "labelColor": "#d4d4d4", "labelFontSize": 9, "labelPadding": 0,
            "tickSize": 3, "tickColor": "#b4b4b4", "labelOverlap": false, "labelFlush": false
          }
        }
      }
    }
  ]
}
